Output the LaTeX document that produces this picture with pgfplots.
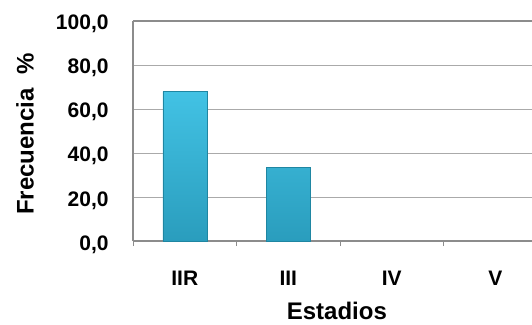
\documentclass[border=0pt]{standalone}
\usepackage{pgfplots}
\pgfplotsset{compat=1.18}
\usepackage{fontspec}
\setmainfont{Liberation Sans}

\definecolor{barTop}{HTML}{42C2E4}
\definecolor{barBot}{HTML}{2A9DBD}
\definecolor{barEdge}{HTML}{1F86A2}
\definecolor{axisGray}{HTML}{8C8C8C}
\definecolor{gridGray}{HTML}{AAAAAA}

\begin{document}
\begin{tikzpicture}
\begin{axis}[
  at={(0,0)}, anchor=south west,
  scale only axis, width=399pt, height=220pt,
  xmin=-0.5, xmax=3.355, ymin=0, ymax=100,
  axis x line*=bottom, axis y line*=left,
  axis line style={axisGray, line width=1.6pt},
  ybar, bar width=44pt,
  xtick={0,1,2,3}, xticklabels={IIR,III,IV,V},
  major x tick style={draw=none},
  minor xtick={-0.5,0.5,1.5,2.5},
  tick align=outside, minor tick length=5pt,
  minor x tick style={axisGray, line width=0.8pt},
  ytick={0,20,...,100},
  major y tick style={draw=none},
  ymajorgrids, grid style={gridGray, line width=0.9pt},
  extra y ticks={100}, extra y tick labels={},
  extra y tick style={major grid style={axisGray, line width=1.6pt}},
  tick label style={font=\fontsize{21}{21}\selectfont\bfseries},
  yticklabel style={anchor=base east, inner sep=0pt, xshift=-20pt, yshift=-9pt,
    /pgf/number format/.cd, fixed, fixed zerofill, precision=1, use comma,
    assume math mode=true},
  xticklabel style={anchor=base, inner sep=0pt, yshift=-40.7pt},
  xlabel={Estadios},
  ylabel={Frecuencia\ \ \%},
  label style={font=\fontsize{24}{24}\selectfont\bfseries},
  xlabel style={at={(axis description cs:0.511,0)}, anchor=base, inner sep=0pt, yshift=-78.5pt},
  ylabel style={at={(axis description cs:-0.2707,0.486)}, anchor=center, inner sep=0pt},
]
\addplot[draw=barEdge, line width=0.5pt, top color=barTop, bottom color=barBot]
  coordinates {(0,67.9) (1,33.4)};
\end{axis}
\pgfresetboundingbox
\useasboundingbox (-133pt,-83pt) rectangle (399pt,241pt);
\end{tikzpicture}
\end{document}
